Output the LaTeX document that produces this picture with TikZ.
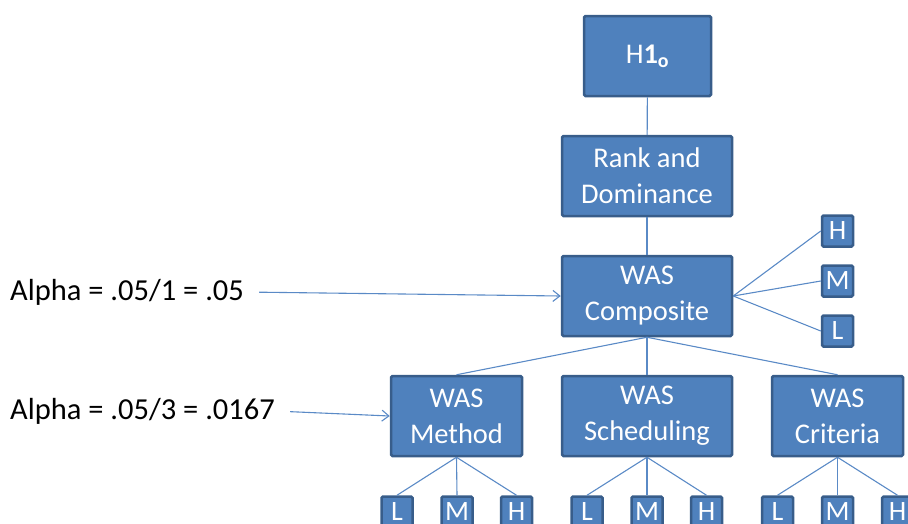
\documentclass[tikz,border=0pt]{standalone}
\usepackage{fontspec}
\setmainfont{Carlito}
\usetikzlibrary{arrows.meta}
\definecolor{boxfill}{HTML}{4F81BD}
\definecolor{boxedge}{HTML}{385D8A}
\definecolor{wire}{HTML}{5A8AC6}
\begin{document}
\begin{tikzpicture}[x=1pt,y=-1pt,
  box/.style={draw=boxedge, fill=boxfill, line width=2.5pt, rounded corners=1.5pt,
    text=white, align=center, inner sep=0pt, font=\fontsize{28.5}{36}\selectfont},
  bigbox/.style={box, minimum width=170pt, minimum height=80pt},
  midbox/.style={box, minimum width=131pt, minimum height=80pt},
  tinybox/.style={box, minimum width=31pt, minimum height=31pt, font=\fontsize{28}{30}\selectfont},
  wire/.style={draw=wire, line width=1.1pt},
  pointer/.style={wire, -{Straight Barb[length=7pt,width=11pt]}},
  note/.style={anchor=west, inner sep=0pt, font=\fontsize{30.5}{36}\selectfont}
]
\clip (0,0) rectangle (908,523);

% main chain
\node[midbox, minimum width=127pt] (h1) at (647.5,56) {H\textbf{1}\textsubscript{\textbf{o}}};
\node[bigbox] (rank) at (647,176) {Rank and\\Dominance};
\node[bigbox] (comp) at (647,296) {WAS\\Composite};

% composite levels
\node[tinybox] (ch) at (837.5,231) {H};
\node[tinybox] (cm) at (837.5,281) {M};
\node[tinybox] (cl) at (837.5,331) {L};

% sub-criteria
\node[midbox] (meth) at (456.5,416) {WAS\\Method};
\node[bigbox] (sched) at (647,416) {WAS\\Scheduling};
\node[midbox] (crit) at (837.5,416) {WAS\\Criteria};

% levels of each sub-criterion
\node[tinybox] (ml) at (397,512) {L};
\node[tinybox] (mm) at (457,512) {M};
\node[tinybox] (mh) at (516.5,512) {H};
\node[tinybox] (sl) at (587,512) {L};
\node[tinybox] (sm) at (647,512) {M};
\node[tinybox] (sh) at (706.5,512) {H};
\node[tinybox] (kl) at (777.5,512) {L};
\node[tinybox] (km) at (837.5,512) {M};
\node[tinybox] (kh) at (897.5,512) {H};

% alpha annotations
\node[note] (a1) at (10,292) {Alpha = .05/1 = .05};
\node[note] (a2) at (10,411) {Alpha = .05/3 = .0167};

% connectors
\draw[wire] (h1) -- (rank);
\draw[wire] (rank) -- (comp);
\draw[wire] (comp.east) -- (ch.west);
\draw[wire] (comp.east) -- (cm.west);
\draw[wire] (comp.east) -- (cl.west);
\draw[wire] (comp.south) -- (meth.north);
\draw[wire] (comp.south) -- (sched.north);
\draw[wire] (comp.south) -- (crit.north);
\foreach \p/\c in {meth/ml, meth/mm, meth/mh, sched/sl, sched/sm, sched/sh, crit/kl, crit/km, crit/kh}
  \draw[wire] (\p.south) -- (\c.north);

\draw[pointer, shorten <=15pt] (a1.east) -- (comp.west);
\draw[pointer, shorten <=15pt] (a2.east) -- (meth.west);
\end{tikzpicture}
\end{document}
